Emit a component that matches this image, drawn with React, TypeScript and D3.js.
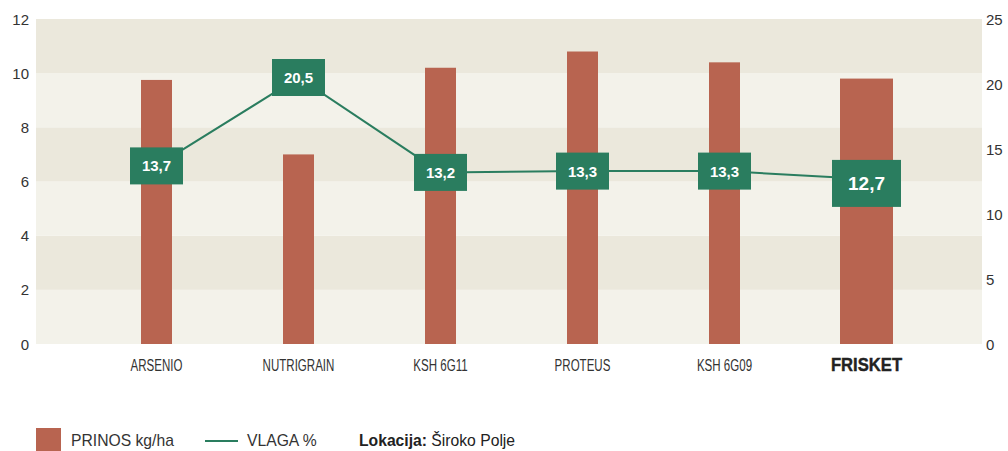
import React, { useRef, useEffect } from 'react';
import * as d3 from 'd3';

const categories = ['ARSENIO', 'NUTRIGRAIN', 'KSH 6G11', 'PROTEUS', 'KSH 6G09', 'FRISKET'];
const yieldValues = [9.75, 7.0, 10.2, 10.8, 10.4, 9.8];
const moistureValues = [13.7, 20.5, 13.2, 13.3, 13.3, 12.7];
const moistureLabels = ['13,7', '20,5', '13,2', '13,3', '13,3', '12,7'];
const leftTicks = [0, 2, 4, 6, 8, 10, 12];
const rightTicks = [0, 5, 10, 15, 20, 25];
const highlight = 'FRISKET';

const BAR = '#b86450';
const GREEN = '#2a7d5f';
const FONT = '"Liberation Sans", Arial, sans-serif';

const App = () => {
    const ref = useRef(null);

    useEffect(() => {
        const width = 1008;
        const height = 451;
        const left = 36, right = 982, top = 19, bottom = 344;

        const svg = d3.select(ref.current)
            .attr('width', width)
            .attr('height', height);
        svg.selectAll('*').remove();

        const x = d3.scaleBand().domain(categories).range([85.5, 937.5]);
        const y = d3.scaleLinear().domain([0, 12]).range([bottom, top]);
        const y2 = d3.scaleLinear().domain([0, 25]).range([bottom, top]);
        const cx = d => x(d) + x.bandwidth() / 2;

        // background bands
        svg.append('g')
            .selectAll('rect')
            .data(d3.range(0, 12, 2))
            .enter().append('rect')
            .attr('x', left)
            .attr('width', right - left)
            .attr('y', d => y(d + 2))
            .attr('height', d => y(d) - y(d + 2))
            .attr('fill', d => (d / 2) % 2 === 0 ? '#f3f2ea' : '#ebe8dc');

        // bars
        svg.append('g')
            .selectAll('rect')
            .data(categories)
            .enter().append('rect')
            .attr('x', d => cx(d) - (d === highlight ? 26.5 : 15.5))
            .attr('width', d => d === highlight ? 53 : 31)
            .attr('y', (d, i) => y(yieldValues[i]))
            .attr('height', (d, i) => bottom - y(yieldValues[i]))
            .attr('fill', BAR);

        // line
        const line = d3.line()
            .x((d, i) => cx(categories[i]))
            .y(d => y2(d));
        svg.append('path')
            .datum(moistureValues)
            .attr('d', line)
            .attr('fill', 'none')
            .attr('stroke', GREEN)
            .attr('stroke-width', 2);

        // value boxes (the highlighted one hangs a little below its point)
        const boxes = svg.append('g')
            .selectAll('g')
            .data(categories)
            .enter().append('g')
            .attr('transform', (d, i) => `translate(${cx(d)},${y2(moistureValues[i]) + (d === highlight ? 4 : 0)})`);
        boxes.append('rect')
            .attr('x', d => d === highlight ? -34.5 : -26.5)
            .attr('y', d => d === highlight ? -23 : -18.5)
            .attr('width', d => d === highlight ? 69 : 53)
            .attr('height', d => d === highlight ? 47 : 37)
            .attr('fill', GREEN);
        boxes.append('text')
            .attr('text-anchor', 'middle')
            .attr('dy', d => d === highlight ? 7 : 5.5)
            .attr('fill', '#fff')
            .attr('font-family', FONT)
            .attr('font-weight', 'bold')
            .attr('font-size', d => d === highlight ? 19 : 15)
            .text((d, i) => moistureLabels[i]);

        // left axis
        svg.append('g')
            .selectAll('text')
            .data(leftTicks)
            .enter().append('text')
            .attr('x', 29)
            .attr('y', d => y(d) + 5.5)
            .attr('text-anchor', 'end')
            .attr('font-family', FONT)
            .attr('font-size', 15)
            .attr('fill', '#333')
            .text(d => d);

        // right axis
        svg.append('g')
            .selectAll('text')
            .data(rightTicks)
            .enter().append('text')
            .attr('x', 986)
            .attr('y', d => y2(d) + 5.5)
            .attr('font-family', FONT)
            .attr('font-size', 15)
            .attr('fill', '#333')
            .text(d => d);

        // category labels (condensed look via horizontal scale)
        svg.append('g')
            .selectAll('text')
            .data(categories)
            .enter().append('text')
            .attr('transform', d => `translate(${cx(d)},370.5) scale(${d === highlight ? 0.9 : 0.7},1)`)
            .attr('text-anchor', 'middle')
            .attr('font-family', FONT)
            .attr('font-size', d => d === highlight ? 18.5 : 16.5)
            .attr('fill', d => d === highlight ? '#222' : '#333')
            .style('font-weight', d => d === highlight ? 'bold' : 'normal')
            .style('stroke', d => d === highlight ? '#222' : 'none')
            .style('stroke-width', 0.4)
            .text(d => d);

        // legend
        const lg = svg.append('g');
        lg.append('rect').attr('x', 36).attr('y', 428).attr('width', 25).attr('height', 23).attr('fill', BAR);
        lg.append('text').attr('x', 71).attr('y', 446).attr('font-family', FONT).attr('font-size', 15.7)
            .attr('fill', '#333').text('PRINOS kg/ha');
        lg.append('line').attr('x1', 205).attr('x2', 238).attr('y1', 441).attr('y2', 441)
            .attr('stroke', GREEN).attr('stroke-width', 2);
        lg.append('text').attr('x', 247).attr('y', 446).attr('font-family', FONT).attr('font-size', 15.7)
            .attr('fill', '#333').text('VLAGA %');
        const loc = lg.append('text').attr('x', 359).attr('y', 446).attr('font-family', FONT)
            .attr('font-size', 15.7).attr('fill', '#222');
        loc.append('tspan').attr('font-weight', 'bold').text('Lokacija:');
        loc.append('tspan').text(' Široko Polje');
    }, []);

    return <svg ref={ref} style={{ position: 'absolute', left: 0, top: 0 }}></svg>;
};

export default App;
